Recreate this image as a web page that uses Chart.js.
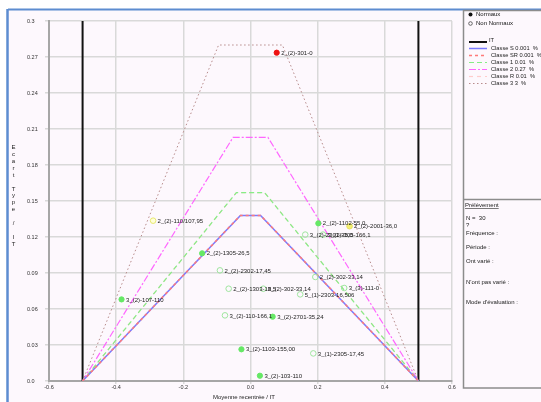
<!DOCTYPE html>
<html><head><meta charset="utf-8">
<script src="https://cdn.jsdelivr.net/npm/chart.js@4"></script>
<style>html,body{margin:0;padding:0;background:#fff;overflow:hidden}canvas{display:block}</style>
</head><body>
<canvas id="c" width="541" height="402" style="width:541px;height:402px"></canvas>
<script>
// ---- data ----
const xMin = -0.6, xMax = 0.6, xStep = 0.2;
const yMin = 0, yMax = 0.3, yStep = 0.03;
const itX = [-0.5, 0.5];
const itY = [0, 0.3];
const classSX  = [-0.5, -0.03, 0.03, 0.5];  const classSY  = [0, 0.138, 0.138, 0];
const classSRX = [-0.5, -0.03, 0.03, 0.5];  const classSRY = [0, 0.138, 0.138, 0];
const class1X  = [-0.5, -0.042, 0.042, 0.5]; const class1Y  = [0, 0.157, 0.157, 0];
const class2X  = [-0.5, -0.052, 0.052, 0.5]; const class2Y  = [0, 0.203, 0.203, 0];
const classRX  = [-0.5, -0.042, 0.042, 0.5]; const classRY  = [0, 0.157, 0.157, 0];
const class3X  = [-0.5, -0.095, 0.095, 0.5]; const class3Y  = [0, 0.28, 0.28, 0];

const ptLabel = ["2_(2)-301-0","2_(2)-110/107,95","2_(2)-1305-26,5","2_(2)-2302-17,45","2_(2)-1303-18,5",
  "3_(2)-302-33,14","3_(2)-110-166,1","3_(2)-2701-35,24","3_(2)-1103-155,00","3_(2)-103-110",
  "3_(1)-2305-17,45","3_(2)-107-110","5_(1)-2303-16,506","3_(3)-111-0","2_(2)-302-33,14",
  "2_(2)-1102-55,0","2_(2)-2001-36,0","3_(2)-2301-35,0","3_(2)-305-166,1"];
const ptX = [0.078,-0.29,-0.144,-0.091,-0.065,0.038,-0.076,0.066,-0.027,0.028,0.187,-0.384,0.148,0.279,0.193,0.202,0.295,0.163,0.216];
const ptY = [0.2736,0.1336,0.1064,0.0922,0.0769,0.0769,0.0547,0.0536,0.0264,0.0044,0.023,0.068,0.0722,0.0775,0.0867,0.1314,0.129,0.122,0.122];
// R = red normal, G = green normal, g = green non normal, y = yellow non normal, Y = yellow normal
const ptKind = ["R","y","G","g","g","g","g","G","G","G","g","G","g","g","g","G","Y","g","g"];

const legendNames = ["IT","Classe S 0.001  %","Classe SR 0.001  %","Classe 1 0.01  %","Classe 2 0.27  %","Classe R 0.01  %","Classe 3 3  %"];
const infoLines = ["N =  30","?","Fréquence :","Période :","Ont varié :","N'ont pas varié :","Mode d'évaluation :"];

// ---- build ----
const xy = (xs, ys) => xs.map((x, i) => ({x, y: ys[i]}));
const FONT = "'Liberation Sans', Arial, sans-serif";
const lineStyles = [
  {name: legendNames[0], color:'#111111', width:2, dash:[]},
  {name: legendNames[1], color:'#7b7bff', width:1.5, dash:[]},
  {name: legendNames[2], color:'#ff7a7a', width:1.5, dash:[3,3]},
  {name: legendNames[3], color:'#86ee86', width:1.2, dash:[5,3]},
  {name: legendNames[4], color:'#ff66ff', width:1.2, dash:[7,2,2,2]},
  {name: legendNames[5], color:'#ffcccc', width:1.2, dash:[4,4]},
  {name: legendNames[6], color:'#b88c8c', width:1, dash:[1.5,2.5]},
];
function lineDs(data, st, order){
  return {type:'scatter', data, showLine:true, borderColor:st.color, borderWidth:st.width,
    borderDash:st.dash, pointRadius:0, pointHoverRadius:0, fill:false, order};
}
const kindStyle = {
  R:{bg:'#ee1111', bd:'#ee1111'},
  G:{bg:'#66e866', bd:'#66e866'},
  g:{bg:'rgba(255,255,255,0)', bd:'#9fe69f'},
  y:{bg:'#ffffd8', bd:'#e8e870'},
  Y:{bg:'#f4f070', bd:'#e8e060'},
};
const datasets = [
  lineDs(xy([itX[0],itX[0]], itY), lineStyles[0], 10),
  lineDs(xy([itX[1],itX[1]], itY), lineStyles[0], 10),
  lineDs(xy(class3X, class3Y), lineStyles[6], 9),
  lineDs(xy(class2X, class2Y), lineStyles[4], 8),
  lineDs(xy(classRX, classRY), lineStyles[5], 7),
  lineDs(xy(class1X, class1Y), lineStyles[3], 6),
  lineDs(xy(classSX, classSY), lineStyles[1], 5),
  lineDs(xy(classSRX, classSRY), lineStyles[2], 4),
  {type:'scatter', data: xy(ptX, ptY), showLine:false, order:1,
   pointRadius: ptKind.map(k => (k==='G'||k==='R') ? 2.6 : 2.8),
   pointBackgroundColor: ptKind.map(k => kindStyle[k].bg),
   pointBorderColor: ptKind.map(k => kindStyle[k].bd),
   pointBorderWidth: 1},
];

const decor = {
  id:'decor',
  beforeDraw(chart){
    const c = chart.ctx;
    c.save();
    c.fillStyle = '#ffffff'; c.fillRect(0,0,541,402);
    c.fillStyle = '#fdf8fd'; c.fillRect(8,10,533,392);
    c.strokeStyle = '#5d8cd0'; c.lineWidth = 2;
    c.beginPath(); c.moveTo(8,9.5); c.lineTo(541,9.5); c.stroke();
    c.lineWidth = 2.5;
    c.beginPath(); c.moveTo(7.5,9); c.lineTo(7.5,402); c.stroke();
    c.restore();
  },
  afterDraw(chart){
    const c = chart.ctx;
    c.save();
    c.strokeStyle = '#8c8c8c'; c.lineWidth = 1.5;
    c.strokeRect(463.5, 10.5, 90, 377.5);
    c.beginPath(); c.moveTo(463.5,199.5); c.lineTo(541,199.5); c.stroke();
    c.fillStyle = '#222'; c.font = '6px ' + FONT; c.textBaseline = 'middle'; c.textAlign = 'left';
    c.beginPath(); c.arc(470.5,14.5,2,0,Math.PI*2); c.fillStyle='#111'; c.fill();
    c.fillText('Normaux', 476, 14.5);
    c.beginPath(); c.arc(470.5,23.5,1.8,0,Math.PI*2); c.strokeStyle='#444'; c.lineWidth=0.8; c.stroke();
    c.fillText('Non Normaux', 476, 23.5);
    c.font = '5.7px ' + FONT;
    lineStyles.forEach((st, i) => {
      const y = i===0 ? 41.5 : 41.5 + 7 + (i-1)*7;
      c.strokeStyle = st.color; c.lineWidth = st.width; c.setLineDash(st.dash);
      c.beginPath(); c.moveTo(469, y + (i===0?0.5:0)); c.lineTo(487, y + (i===0?0.5:0)); c.stroke();
      c.setLineDash([]);
      c.fillStyle = '#222';
      c.fillText(st.name, i===0 ? 489 : 491, y - (i===0?1:0));
    });
    c.font = '6px ' + FONT;
    c.fillStyle = '#222';
    c.fillText('Prélèvement', 465, 205);
    const w = c.measureText('Prélèvement').width;
    c.strokeStyle='#222'; c.lineWidth=0.6; c.beginPath(); c.moveTo(465,208.5); c.lineTo(465+w,208.5); c.stroke();
    const infoY = [218,225,233,247,261,282,302];
    infoLines.forEach((t,i) => c.fillText(t, 466, infoY[i]));
    c.textAlign = 'center';
    const yt = 'Ecart Type / IT';
    for (let i=0;i<yt.length;i++) c.fillText(yt[i], 13.5, 147.5 + i*6.9);
    c.textAlign = 'left';
    c.fillText('Moyenne recentrée / IT', 213, 397.5);
    const xs = chart.scales.x, ys = chart.scales.y;
    c.fillStyle = '#222'; c.font = '6px ' + FONT;
    ptLabel.forEach((t,i) => {
      c.fillText(t, xs.getPixelForValue(ptX[i]) + 4.5, ys.getPixelForValue(ptY[i]) + 0.5);
    });
    c.restore();
  }
};

new Chart(document.getElementById('c'), {
  type:'scatter',
  data:{datasets},
  options:{
    responsive:false, devicePixelRatio:1, animation:false,
    layout:{padding:{left:27, top:21, right:89, bottom:0}},
    plugins:{legend:{display:false}, tooltip:{enabled:false}},
    scales:{
      x:{type:'linear', min:xMin, max:xMax,
        afterFit(s){ s.height = 21; },
        ticks:{stepSize:xStep, font:{family:FONT, size:5.5}, color:'#333', padding:0, maxRotation:0,
          callback:v => (Math.round(v*10)/10).toFixed(1)},
        grid:{color:'#d9d9d9', lineWidth:1.5, tickLength:3},
        border:{color:'#a6a6a6', width:2}},
      y:{type:'linear', min:yMin, max:yMax,
        afterFit(s){ s.width = 22; },
        ticks:{stepSize:yStep, font:{family:FONT, size:5.5}, color:'#333', crossAlign:'far',
          callback:v => { const r = Math.round(v*100)/100; return Number.isInteger(r) ? r.toFixed(1) : String(r); }},
        grid:{color:'#d9d9d9', lineWidth:1.5, tickLength:4},
        border:{color:'#a6a6a6', width:2}}
    }
  },
  plugins:[decor]
});
</script>
</body></html>
